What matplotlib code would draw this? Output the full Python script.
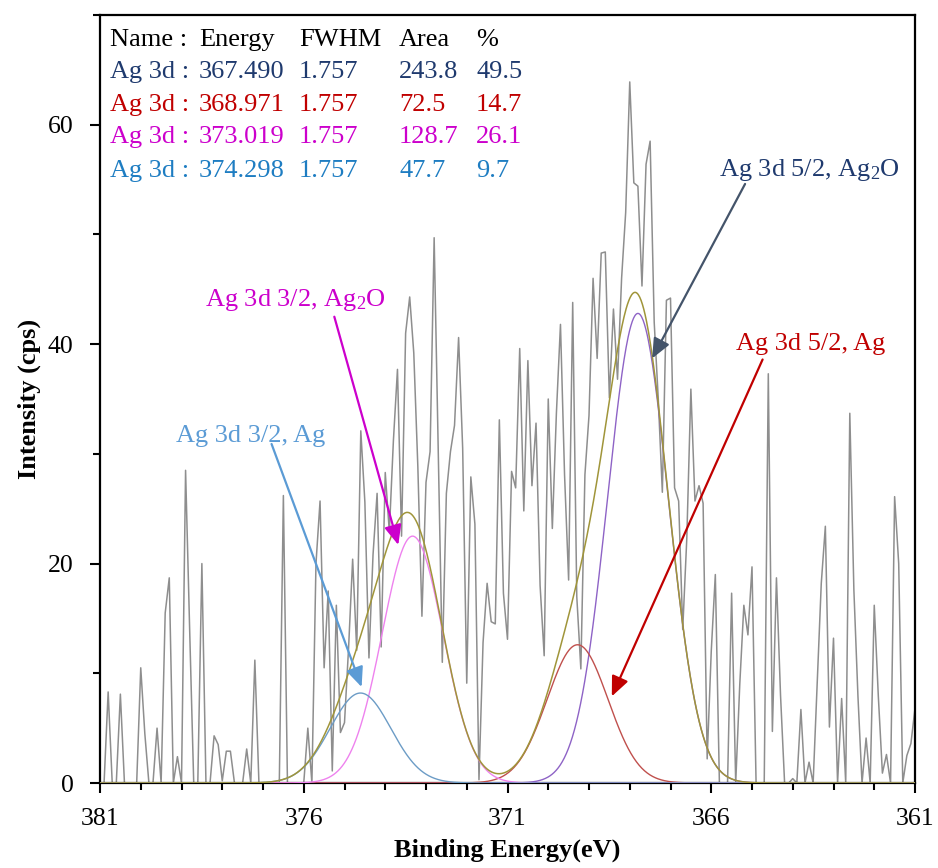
import numpy as np
import matplotlib
matplotlib.use('Agg')
import matplotlib.pyplot as plt
from matplotlib.ticker import MultipleLocator

plt.rcParams.update({
    'font.family': ['Liberation Serif', 'DejaVu Serif'],
    'mathtext.fontset': 'custom',
    'mathtext.rm': 'Liberation Serif',
    'mathtext.it': 'Liberation Serif:italic',
    'mathtext.bf': 'Liberation Serif:bold',
})

# ---- raw spectrum: 381.0 -> 361.0 eV, 0.1 eV step ----
E_START, E_STOP = 381.0, 361.0
counts = [
    0, 0, 8.3, 0, 0, 8.1, 0, 0, 0, 0,                          # 381.0-380.1
    10.5, 4.5, 0, 0, 5.0, 0, 15.5, 18.7, 0, 2.4,               # 380.0-379.1
    0, 28.5, 14.0, 0, 0, 20.0, 0, 0, 4.3, 3.5,                 # 379.0-378.1
    0.2, 2.9, 2.9, 0, 0, 0, 3.1, 0, 11.2, 0,                   # 378.0-377.1
    0, 0, 0, 0, 0, 26.2, 0, 0, 0, 0,                           # 377.0-376.1
    0, 5.0, 0, 20.0, 25.7, 10.5, 17.5, 1.1, 16.2, 4.6,         # 376.0-375.1
    5.5, 12.3, 20.4, 12.1, 32.1, 25.6, 11.4, 20.8, 26.4, 12.4, # 375.0-374.1
    28.3, 22.9, 31.2, 37.7, 22.5, 41.0, 44.3, 39.2, 28.8, 15.2,
    27.4, 30.2, 49.7, 30.5, 11.0, 26.4, 30.2, 32.6, 40.6, 30.5,
    9.1, 27.9, 23.6, 0.3, 12.8, 18.2, 14.7, 14.5, 33.1, 17.3,
    13.1, 28.4, 26.9, 39.6, 24.8, 38.5, 27.1, 32.8, 18.0, 11.6,
    35.0, 23.2, 33.7, 41.8, 28.1, 18.5, 43.8, 17.0, 10.4, 28.1,
    33.5, 46.0, 38.7, 48.3, 48.4, 35.1, 43.2, 36.8, 46.0, 52.0,
    63.9, 54.7, 54.4, 45.3, 56.4, 58.5, 42.0, 35.0, 26.5, 44.0,
    44.2, 26.9, 25.7, 14.0, 22.3, 35.9, 25.7, 27.1, 25.5, 2.2,
    12.0, 19.0, 0, 0, 0, 17.3, 0, 9.0, 16.2, 13.5,
    19.7, 0, 0, 0, 37.3, 4.7, 18.7, 8.0, 0, 0,
    0.4, 0, 6.7, 0, 1.9, 0, 9.1, 18.2, 23.4, 5.1,
    13.2, 0, 7.7, 0, 33.7, 17.6, 7.9, 0, 4.1, 0,
    16.2, 7.9, 0.9, 2.6, 0, 26.1, 20.0, 0, 2.5, 3.6,           # 362.0-361.1
    6.8,                                                        # 361.0
]
energy = np.linspace(E_START, E_STOP, len(counts))
x_ticks = [381, 376, 371, 366, 361]

# ---- fitted components (table values) ----
peak_energy = [367.490, 368.971, 373.019, 374.298]
peak_fwhm = [1.757, 1.757, 1.757, 1.757]
peak_area = [243.8, 72.5, 128.7, 47.7]
peak_pct = [49.5, 14.7, 26.1, 9.7]
peak_height = [42.8, 12.6, 22.5, 8.2]
PLOT_SHIFT = 0.31                        # curves sit ~0.31 eV above the table energies

curve_colors = ['#8E63C6', '#C0504D', '#EE82EE', '#6C9CC6']
table_colors = ['#1F3A6E', '#C00000', '#CC00CC', '#1E7DC2']
envelope_color = '#A0953A'

fig = plt.figure(figsize=(9.38, 8.68), dpi=100)
ax = fig.add_axes([100 / 938, 85 / 868, 815 / 938, 768 / 868])

ax.plot(energy, counts, color='#8E8E8E', lw=1.1, zorder=2)

xf = np.linspace(E_START, E_STOP, 1200)
envelope = np.zeros_like(xf)
for e0, fw, h, c in zip(peak_energy, peak_fwhm, peak_height, curve_colors):
    sig = fw / 2.3548
    g = h * np.exp(-0.5 * ((xf - (e0 + PLOT_SHIFT)) / sig) ** 2)
    envelope += g
    ax.plot(xf, g, color=c, lw=1.0, zorder=3)
ax.plot(xf, envelope, color=envelope_color, lw=1.1, zorder=4)

ax.set_xlim(381, 361)
ax.set_ylim(0, 70)
ax.set_xticks(x_ticks)
ax.xaxis.set_minor_locator(MultipleLocator(1))
ax.yaxis.set_major_locator(MultipleLocator(20))
ax.yaxis.set_minor_locator(MultipleLocator(10))
ax.tick_params(which='both', direction='out', width=1.5, labelsize=18.5)
ax.tick_params(which='major', length=7)
ax.tick_params(which='minor', length=5)
ax.tick_params(axis='x', which='major', pad=11)
ax.tick_params(axis='y', which='major', pad=12)
for sp in ax.spines.values():
    sp.set_linewidth(1.6)
    sp.set_color('black')

ax.set_xlabel('Binding Energy(eV)', fontsize=19, fontweight='bold', labelpad=6)
ax.set_ylabel('Intensity (cps)', fontsize=19, fontweight='bold', labelpad=5)

# ---- table of fit results ----
col_x = [110, 199, 299, 399, 476]
row_base = [46, 78, 111, 143, 177]


def ax_x(px):
    return (px - 100) / 815


def ax_y(py):
    return (783 - py) / 768


header = ['Name :', 'Energy', 'FWHM', 'Area', '%']
for cx, s in zip(col_x, header):
    ax.text(ax_x(cx), ax_y(row_base[0]), s, transform=ax.transAxes,
            fontsize=19, color='black', ha='left', va='baseline')
for i in range(4):
    vals = ['Ag 3d :', f'{peak_energy[i]:.3f}', f'{peak_fwhm[i]:.3f}',
            f'{peak_area[i]:.1f}', f'{peak_pct[i]:.1f}']
    for cx, s in zip(col_x, vals):
        ax.text(ax_x(cx), ax_y(row_base[i + 1]), s, transform=ax.transAxes,
                fontsize=19, color=table_colors[i], ha='left', va='baseline')

# ---- peak labels with arrows ----
labels = [
    dict(text='Ag 3d 5/2, Ag$_2$O', txt=(363.6, 55.9), tail=(365.17, 54.6),
         head=(367.45, 38.7), tc='#1F3A6E', ac='#44546A'),
    dict(text='Ag 3d 5/2, Ag', txt=(363.55, 40.0), tail=(364.74, 38.6),
         head=(368.44, 7.9), tc='#C00000', ac='#C00000'),
    dict(text='Ag 3d 3/2, Ag$_2$O', txt=(376.2, 44.0), tail=(375.25, 42.5),
         head=(373.68, 21.7), tc='#CC00CC', ac='#CC00CC'),
    dict(text='Ag 3d 3/2, Ag', txt=(377.3, 31.6), tail=(376.79, 30.9),
         head=(374.58, 8.75), tc='#5B9BD5', ac='#5B9BD5'),
]
for lb in labels:
    ax.text(lb['txt'][0], lb['txt'][1], lb['text'], fontsize=19,
            color=lb['tc'], ha='center', va='center', zorder=6)
    ax.annotate('', xy=lb['head'], xytext=lb['tail'],
                arrowprops=dict(arrowstyle='-|>,head_length=0.8,head_width=0.35',
                                color=lb['ac'], lw=1.6, mutation_scale=15,
                                shrinkA=0, shrinkB=0),
                zorder=6)

fig.savefig('out.png', dpi=100, facecolor='white')
